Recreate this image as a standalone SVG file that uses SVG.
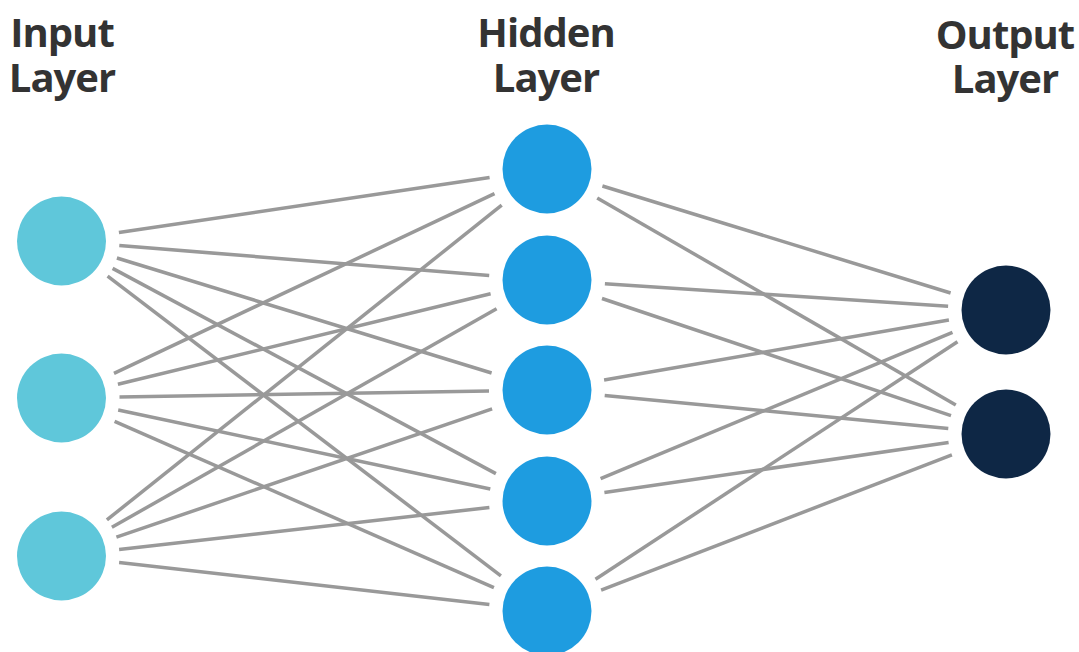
<svg xmlns="http://www.w3.org/2000/svg" width="1079" height="652" viewBox="0 0 1079 652">
  <style>
    .label { font-family: "Open Sans", "Liberation Sans", sans-serif; font-weight: 700; font-size: 40px; fill: #333333; text-anchor: middle; letter-spacing: -1px; }
    .edge { stroke: #999999; stroke-width: 3.5; stroke-linecap: butt; fill: none; }
    .input { fill: #5fc7da; }
    .hidden { fill: #1e9ce0; }
    .output { fill: #0e2745; }
  </style>
  <rect width="1079" height="652" fill="#ffffff"/>

  <!-- layer titles -->
  <g id="title-input">
    <text class="label" x="62" y="47">Input</text>
    <text class="label" x="62" y="92">Layer</text>
  </g>
  <g id="title-hidden">
    <text class="label" x="546" y="47">Hidden</text>
    <text class="label" x="546" y="92">Layer</text>
  </g>
  <g id="title-output">
    <text class="label" x="1005" y="49">Output</text>
    <text class="label" x="1005" y="93">Layer</text>
  </g>

  <!-- connections, trimmed 58px short of each node centre -->
  <g id="connectors" class="edge">
    <!-- input 1 -->
    <line x1="118.9" y1="232.5" x2="489.6" y2="177.5"/>
    <line x1="119.3" y1="245.6" x2="489.2" y2="275.4"/>
    <line x1="116.9" y1="258.0" x2="491.6" y2="373.0"/>
    <line x1="112.6" y1="268.4" x2="495.9" y2="473.6"/>
    <line x1="107.6" y1="276.2" x2="500.9" y2="575.8"/>
    <!-- input 2 -->
    <line x1="114.0" y1="373.3" x2="494.5" y2="193.7"/>
    <line x1="117.9" y1="384.3" x2="490.6" y2="293.7"/>
    <line x1="119.5" y1="397.0" x2="489.0" y2="391.0"/>
    <line x1="118.2" y1="410.0" x2="490.3" y2="489.0"/>
    <line x1="114.6" y1="421.3" x2="493.9" y2="587.7"/>
    <!-- input 3 -->
    <line x1="106.9" y1="519.9" x2="501.7" y2="205.2"/>
    <line x1="111.9" y1="527.3" x2="496.6" y2="308.7"/>
    <line x1="116.4" y1="537.2" x2="492.1" y2="408.8"/>
    <line x1="119.1" y1="549.5" x2="489.4" y2="507.5"/>
    <line x1="119.1" y1="562.5" x2="489.4" y2="604.5"/>
    <!-- hidden to output -->
    <line x1="602.4" y1="186.0" x2="950.6" y2="293.0"/>
    <line x1="597.2" y1="198.0" x2="955.8" y2="405.0"/>
    <line x1="604.9" y1="283.8" x2="948.1" y2="306.2"/>
    <line x1="602.0" y1="298.5" x2="951.0" y2="415.6"/>
    <line x1="604.1" y1="380.0" x2="948.9" y2="320.0"/>
    <line x1="604.7" y1="395.5" x2="948.3" y2="428.5"/>
    <line x1="600.6" y1="478.7" x2="952.5" y2="332.3"/>
    <line x1="604.4" y1="492.6" x2="948.6" y2="442.4"/>
    <line x1="595.5" y1="579.2" x2="957.5" y2="341.8"/>
    <line x1="601.1" y1="590.1" x2="951.9" y2="454.9"/>
  </g>

  <!-- input layer -->
  <g id="input-1"><circle class="input" cx="61.5" cy="241" r="44.5"/></g>
  <g id="input-2"><circle class="input" cx="61.5" cy="398" r="44.5"/></g>
  <g id="input-3"><circle class="input" cx="61.5" cy="556" r="44.5"/></g>

  <!-- hidden layer -->
  <g id="hidden-1"><circle class="hidden" cx="547" cy="169" r="44.5"/></g>
  <g id="hidden-2"><circle class="hidden" cx="547" cy="280" r="44.5"/></g>
  <g id="hidden-3"><circle class="hidden" cx="547" cy="390" r="44.5"/></g>
  <g id="hidden-4"><circle class="hidden" cx="547" cy="501" r="44.5"/></g>
  <g id="hidden-5"><circle class="hidden" cx="547" cy="611" r="44.5"/></g>

  <!-- output layer -->
  <g id="output-1"><circle class="output" cx="1006" cy="310" r="44.5"/></g>
  <g id="output-2"><circle class="output" cx="1006" cy="434" r="44.5"/></g>
</svg>
